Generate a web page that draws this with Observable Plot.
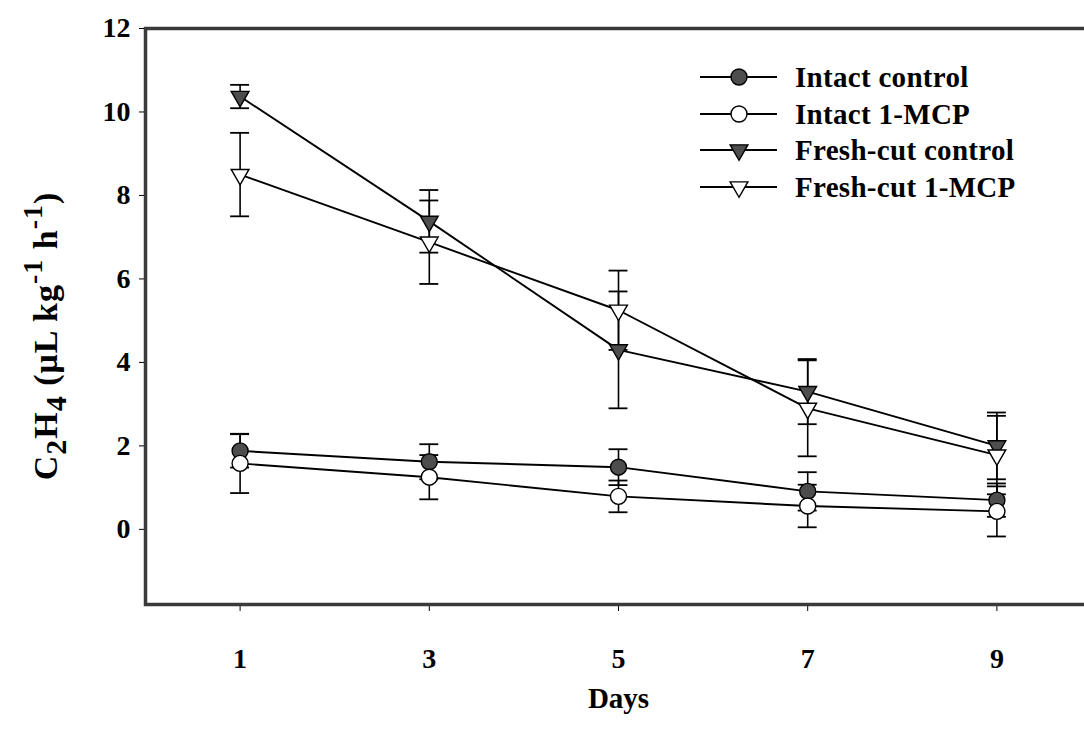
<!DOCTYPE html>
<html>
<head>
<meta charset="utf-8">
<script src="https://cdn.jsdelivr.net/npm/d3@7"></script>
<script src="https://cdn.jsdelivr.net/npm/@observablehq/plot@0.6"></script>
<style>
  html, body { margin: 0; padding: 0; background: white; overflow: hidden; }
</style>
</head>
<body>
<div id="chart"></div>
<script>
// ---- data ----
const days = [1, 3, 5, 7, 9];
const seriesNames = ["Intact control", "Intact 1-MCP", "Fresh-cut control", "Fresh-cut 1-MCP"];
const intactControl     = [1.88, 1.62, 1.49, 0.91, 0.70];
const intactControlErr  = [0.40, 0.42, 0.43, 0.46, 0.40];
const intact1MCP        = [1.58, 1.25, 0.79, 0.56, 0.43];
const intact1MCPErr     = [0.71, 0.53, 0.38, 0.51, 0.60];
const freshControl      = [10.37, 7.38, 4.30, 3.30, 2.00];
const freshControlErr   = [0.28, 0.75, 1.40, 0.78, 0.80];
const fresh1MCP         = [8.50, 6.88, 5.25, 2.90, 1.78];
const fresh1MCPErr      = [1.00, 1.00, 0.95, 1.15, 0.94];
const xTicks = [1, 3, 5, 7, 9];
const yTicks = [0, 2, 4, 6, 8, 10, 12];
const xLabel = "Days";

const seriesValues = [intactControl, intact1MCP, freshControl, fresh1MCP];
const seriesErrs = [intactControlErr, intact1MCPErr, freshControlErr, fresh1MCPErr];

const rows = [];
seriesNames.forEach((name, i) => {
  days.forEach((d, j) => rows.push({series: name, day: d, value: seriesValues[i][j], err: seriesErrs[i][j]}));
});

// downward triangle symbol
const triangleDown = {
  draw(ctx, size) {
    const y = Math.sqrt(size / (Math.sqrt(3) * 3));
    ctx.moveTo(0, 2 * y);
    ctx.lineTo(-Math.sqrt(3) * y, -y);
    ctx.lineTo(Math.sqrt(3) * y, -y);
    ctx.closePath();
  }
};
const darkFill = "#4d4d4d";
const styles = {
  "Intact control":    {symbol: "circle", fill: darkFill, r: 8},
  "Intact 1-MCP":      {symbol: "circle", fill: "white", r: 8},
  "Fresh-cut control": {symbol: triangleDown, fill: darkFill, r: 6.6},
  "Fresh-cut 1-MCP":   {symbol: triangleDown, fill: "white", r: 6.6}
};

const font = "'Liberation Serif', 'Times New Roman', serif";
const capHalf = 0.1;

const svg = Plot.plot({
  width: 1084,
  height: 730,
  marginLeft: 145,
  marginTop: 28,
  marginRight: -7,
  marginBottom: 126,
  style: {fontFamily: font, fontSize: "28px", fontWeight: "bold", background: "white", color: "black"},
  x: {domain: [0, 10], ticks: xTicks, tickSize: 7, tickPadding: 37, label: null, tickFormat: d => String(d)},
  y: {domain: [-1.8, 12], ticks: yTicks, tickSize: 6, tickPadding: 9, label: null, tickFormat: d => String(d)},
  marks: [
    Plot.line(rows, {x: "day", y: "value", z: "series", stroke: "black", strokeWidth: 1.9}),
    Plot.ruleX(rows, {x: "day", y1: d => d.value - d.err, y2: d => d.value + d.err, stroke: "black", strokeWidth: 1.6}),
    Plot.ruleY(rows, {y: d => d.value + d.err, x1: d => d.day - capHalf, x2: d => d.day + capHalf, stroke: "black", strokeWidth: 1.8}),
    Plot.ruleY(rows, {y: d => d.value - d.err, x1: d => d.day - capHalf, x2: d => d.day + capHalf, stroke: "black", strokeWidth: 1.8}),
    ...seriesNames.map(name => Plot.dot(rows.filter(r => r.series === name), {
      x: "day", y: "value", symbol: styles[name].symbol, r: styles[name].r,
      fill: styles[name].fill, stroke: "black", strokeWidth: 1.4
    })),
    Plot.frame({stroke: "#3a3a3a", strokeWidth: 3.5}),
    Plot.text([xLabel], {text: d => d, frameAnchor: "bottom", dy: 103, fontSize: 29, fontWeight: "bold"})
  ]
});
document.getElementById("chart").appendChild(svg);

// ---- y-axis title with sub/superscripts ----
const s = d3.select(svg);
const yt = s.append("text")
  .attr("transform", "translate(57,336) rotate(-90)")
  .attr("text-anchor", "middle")
  .attr("font-family", font)
  .attr("font-weight", "bold")
  .attr("font-size", 34)
  .attr("letter-spacing", "1px")
  .attr("fill", "black");
const parts = [["C", null], ["2", "sub"], ["H", null], ["4", "sub"], [" (\u03BCL kg", null], ["-1", "super"], [" h", null], ["-1", "super"], [")", null]];
parts.forEach(([t, k]) => {
  const ts = yt.append("tspan").text(t);
  if (k === "sub") ts.attr("baseline-shift", "-30%").attr("font-size", 30);
  if (k === "super") ts.attr("baseline-shift", "55%").attr("font-size", 28);
});

// ---- legend ----
const legendRowsY = [77, 114, 150, 187];
const lg = s.append("g");
seriesNames.forEach((name, i) => {
  const y = legendRowsY[i];
  lg.append("line").attr("x1", 700).attr("x2", 777).attr("y1", y).attr("y2", y)
    .attr("stroke", "black").attr("stroke-width", 1.8);
  const st = styles[name];
  const sym = st.symbol === "circle" ? d3.symbolCircle : st.symbol;
  lg.append("path").attr("transform", `translate(739,${y})`)
    .attr("d", d3.symbol(sym, Math.PI * st.r * st.r)())
    .attr("fill", st.fill).attr("stroke", "black").attr("stroke-width", 1.4);
  lg.append("text").attr("x", 795).attr("y", y).attr("dy", "0.35em")
    .attr("text-anchor", "start")
    .attr("font-family", font).attr("font-weight", "bold").attr("font-size", 29)
    .attr("letter-spacing", "0.3px")
    .attr("fill", "black").text(name);
});
</script>
</body>
</html>
